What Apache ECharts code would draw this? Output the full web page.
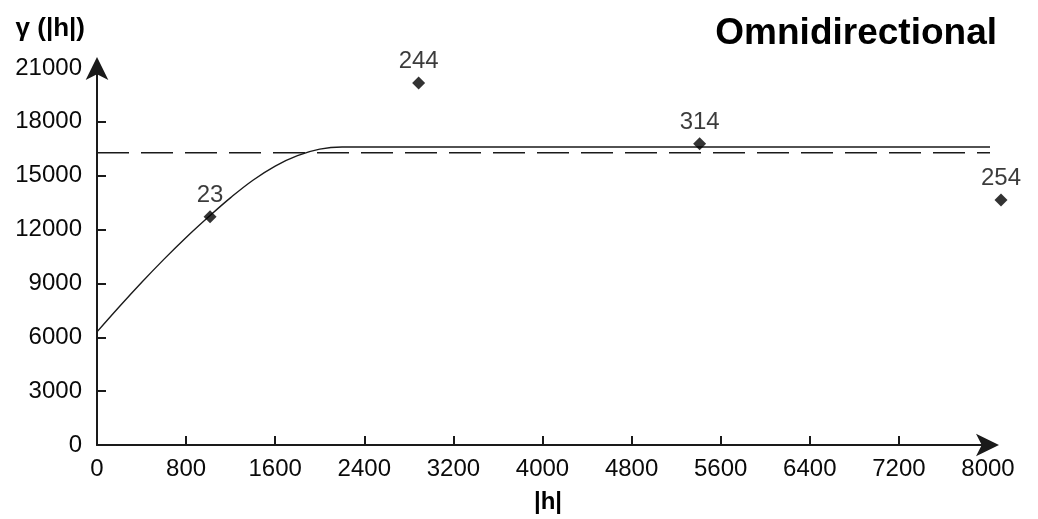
<!DOCTYPE html>
<html>
<head>
<meta charset="utf-8">
<script src="https://cdn.jsdelivr.net/npm/echarts@6/dist/echarts.min.js"></script>
<style>
  html, body { margin: 0; padding: 0; background: #fff; }
  #chart { width: 1038px; height: 519px; }
</style>
</head>
<body>
<div id="chart"></div>
<script>
// Experimental semivariogram: lag distance |h|, semivariance and number of pairs per lag
const lagDist   = [1015, 2888, 5411, 8117];
const semivar   = [12710, 20160, 16780, 13650];
const pairCount = [23, 244, 314, 254];

// Fitted model curve (nugget ~6300, levelling off at the sill ~16600)
const modelLag = [0, 200, 400, 600, 800, 1000, 1200, 1400, 1600, 1800, 2000, 2200, 2400, 8135];
const modelVal = [6300, 7700, 9050, 10340, 11560, 12700, 13780, 14750, 15540, 16120, 16480, 16600, 16600, 16600];

// Sample variance reference line
const varianceLag = [0, 8135];
const varianceVal = [16280, 16280];

// Axis tick labels and tick marks
const xLabels = [0, 800, 1600, 2400, 3200, 4000, 4800, 5600, 6400, 7200, 8000];
const xTicks  = [800, 1600, 2400, 3200, 4000, 4800, 5600, 6400, 7200];
const yLabels = [0, 3000, 6000, 9000, 12000, 15000, 18000, 21000];
const yTicks  = [3000, 6000, 9000, 12000, 15000, 18000];

const FONT = '"Liberation Sans", Arial, sans-serif';
const INK = '#0a0a0a';

const zip = (a, b) => a.map((v, i) => [v, b[i]]);

const chart = echarts.init(document.getElementById('chart'), null, { renderer: 'canvas' });

const axisCommon = {
  type: 'value',
  splitLine: { show: false },
  axisLine: {
    show: true,
    onZero: false,
    lineStyle: { color: '#1a1a1a', width: 2 },
    symbol: ['none', 'arrow'],
    symbolSize: [17, 23],
    symbolOffset: [0, 11]
  },
  axisTick: { show: true, inside: true, length: 9, lineStyle: { color: '#1a1a1a', width: 2 } },
  axisLabel: {
    fontSize: 24, color: INK, fontFamily: FONT,
    formatter: v => String(v)
  }
};

chart.setOption({
  animation: false,
  backgroundColor: '#fff',
  title: {
    text: 'Omnidirectional',
    right: 36,
    top: 10,
    textStyle: { fontSize: 37, fontWeight: 'bold', color: '#000', fontFamily: FONT }
  },
  grid: { left: 97, right: 50, top: 68, bottom: 72, containLabel: false },
  xAxis: Object.assign({}, axisCommon, {
    min: 0, max: 8000, interval: 800,
    name: '|h|',
    nameLocation: 'middle',
    nameGap: 57,
    nameTextStyle: { fontSize: 24, fontWeight: 'bold', color: '#000', fontFamily: FONT,
                     verticalAlign: 'middle', padding: [0, 0, 0, 11] },
    axisTick: Object.assign({}, axisCommon.axisTick, { customValues: xTicks }),
    axisLabel: Object.assign({}, axisCommon.axisLabel, { customValues: xLabels, margin: 12 })
  }),
  yAxis: Object.assign({}, axisCommon, {
    min: 0, max: 21000, interval: 3000,
    name: 'γ (|h|)',
    nameLocation: 'end',
    nameGap: 39,
    nameTextStyle: { fontSize: 26, fontWeight: 'bold', color: '#000', fontFamily: FONT,
                     align: 'right', verticalAlign: 'middle', padding: [0, 12, 0, 0] },
    axisTick: Object.assign({}, axisCommon.axisTick, { customValues: yTicks }),
    axisLabel: Object.assign({}, axisCommon.axisLabel, { customValues: yLabels, margin: 15 })
  }),
  series: [
    {
      name: 'model',
      type: 'line',
      data: zip(modelLag, modelVal),
      showSymbol: false,
      smooth: 0.4,
      clip: false,
      lineStyle: { color: '#1a1a1a', width: 1.4 },
      z: 3
    },
    {
      name: 'variance',
      type: 'line',
      data: zip(varianceLag, varianceVal),
      showSymbol: false,
      clip: false,
      lineStyle: { color: '#1a1a1a', width: 1.6, type: [32, 12] },
      z: 2
    },
    {
      name: 'experimental',
      type: 'scatter',
      data: lagDist.map((h, i) => [h, semivar[i], pairCount[i]]),
      symbol: 'diamond',
      symbolSize: 13,
      clip: false,
      itemStyle: { color: '#000' },
      label: {
        show: true,
        position: 'top',
        distance: 3,
        fontSize: 24,
        color: INK,
        fontFamily: FONT,
        formatter: p => String(p.value[2])
      },
      z: 4
    }
  ]
});
</script>
</body>
</html>
